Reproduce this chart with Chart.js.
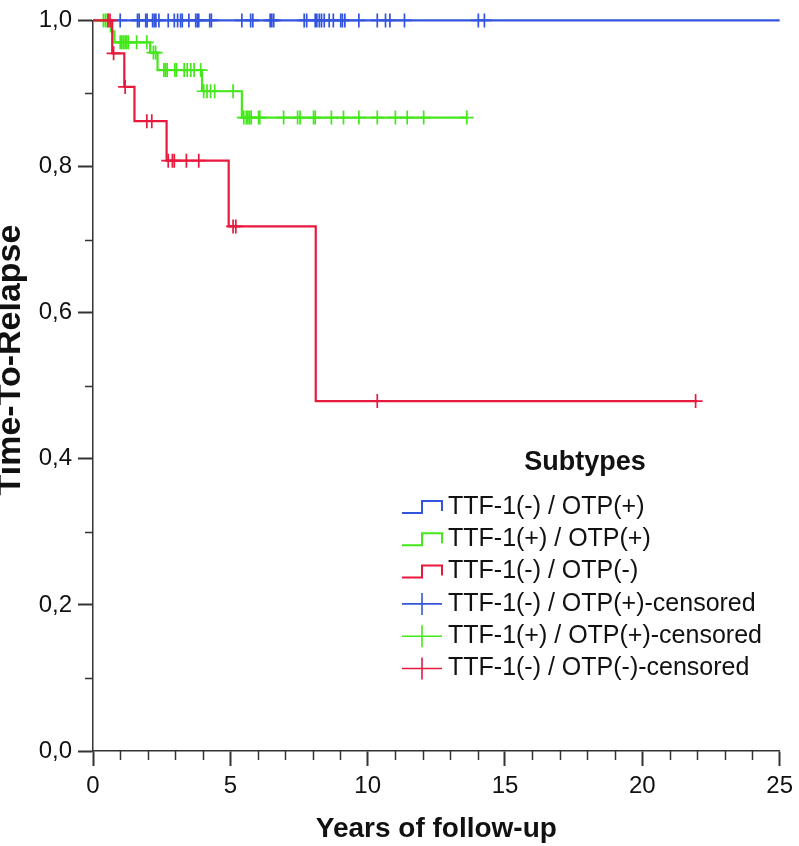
<!DOCTYPE html>
<html>
<head>
<meta charset="utf-8">
<script src="https://cdn.jsdelivr.net/npm/chart.js@4.4.1/dist/chart.umd.min.js"></script>
<style>
  html, body { margin: 0; padding: 0; background: #fff; }
  #wrap { position: relative; width: 799px; height: 846px; }
</style>
</head>
<body>
<div id="wrap"><canvas id="km"></canvas></div>
<script>
// Kaplan-Meier steps (time in years, survival after that time).
const blueTimes = [0, 25];
const blueSurv = [1, 1];
const greenTimes = [0, 0.65, 0.78, 2.08, 2.35, 3.97, 5.42, 13.61];
const greenSurv = [1, 0.985, 0.970, 0.956, 0.932, 0.903, 0.867, 0.867];
const redTimes = [0, 0.70, 1.14, 1.51, 2.68, 4.94, 8.11, 22.0];
const redSurv = [1, 0.955, 0.909, 0.862, 0.808, 0.718, 0.479, 0.479];

// Censored observations (years).
const blueCensored = [0.99, 1.62, 1.68, 1.92, 1.97, 2.17, 2.23, 2.29, 2.40, 2.74, 2.96, 3.08, 3.19, 3.25,
  3.49, 3.74, 3.80, 3.85, 4.25, 4.31, 5.42, 5.74, 5.82, 6.45, 6.51, 6.58, 7.69, 7.78, 8.09, 8.15, 8.24,
  8.32, 8.42, 8.60, 8.75, 9.02, 9.08, 9.17, 9.68, 10.35, 10.65, 10.81, 11.34, 14.03, 14.25];
const greenCensored = [0.38, 0.45, 0.52, 0.99, 1.05, 1.11, 1.17, 1.23, 1.29, 1.59, 1.96, 2.20, 2.28,
  2.58, 2.64, 2.70, 2.98, 3.04, 3.32, 3.43, 3.56, 3.68, 3.92, 4.03, 4.15, 4.28, 4.43, 5.10,
  5.49, 5.58, 5.64, 5.70, 5.76, 6.03, 6.07, 6.94, 7.45, 7.54, 8.03, 8.09, 8.68, 9.12, 9.68,
  10.35, 11.01, 11.44, 12.04, 13.61];
const redCensored = [0.55, 0.62, 0.75, 1.17, 1.96, 2.14, 2.74, 2.89, 2.96, 3.40, 3.85, 5.10, 5.20, 10.35, 21.94];

const subtypeLabels = ['TTF-1(-) / OTP(+)', 'TTF-1(+) / OTP(+)', 'TTF-1(-) / OTP(-)'];
const subtypeColors = ['#3355dd', '#44e81a', '#e8193c'];
const legendTitle = 'Subtypes';
const xTitle = 'Years of follow-up';
const yTitle = 'Time-To-Relapse';
const xTicks = [0, 5, 10, 15, 20, 25];
const yTicks = [0, 0.2, 0.4, 0.6, 0.8, 1.0];

const FONT = '"Liberation Sans", Arial, Helvetica, sans-serif';
Chart.defaults.font.family = FONT;
Chart.defaults.color = '#111';

function stepPoints(times, surv) {
  return times.map((t, i) => ({x: t, y: surv[i]}));
}

// y of a censor mark = curve value at that time
function censorPoints(times, surv, censored) {
  return censored.map(t => {
    let s = surv[0];
    times.forEach((tt, i) => { if (tt <= t) s = surv[i]; });
    return {x: t, y: s};
  });
}

const curves = [[blueTimes, blueSurv, blueCensored], [greenTimes, greenSurv, greenCensored], [redTimes, redSurv, redCensored]];
const datasets = [];
curves.forEach(([times, surv, cens], i) => {
  datasets.push({
    type: 'line',
    label: subtypeLabels[i],
    data: stepPoints(times, surv),
    borderColor: subtypeColors[i],
    borderWidth: 2.2,
    pointRadius: 0,
    stepped: 'before',
    fill: false,
    clip: false,
    order: 6 - i * 2,
  });
});
curves.forEach(([times, surv, cens], i) => {
  datasets.push({
    type: 'scatter',
    label: subtypeLabels[i] + '-censored',
    data: censorPoints(times, surv, cens),
    borderColor: subtypeColors[i],
    backgroundColor: subtypeColors[i],
    pointStyle: 'cross',
    pointRadius: 7,
    pointBorderWidth: 1.7,
    showLine: false,
    clip: false,
    order: 5 - i * 2,
  });
});

// minor ticks on both axes
const minorTicks = {
  id: 'minorTicks',
  afterDatasetsDraw(chart) {
    const {ctx, chartArea, scales} = chart;
    ctx.save();
    ctx.strokeStyle = '#333';
    ctx.lineWidth = 1.5;
    ctx.beginPath();
    for (let v = 0.1; v < 1; v += 0.2) {
      const y = Math.round(scales.y.getPixelForValue(v)) + 0.5;
      ctx.moveTo(chartArea.left - 8, y);
      ctx.lineTo(chartArea.left, y);
    }
    for (let v = 1; v < 25; v++) {
      if (v % 5 === 0) continue;
      const x = Math.round(scales.x.getPixelForValue(v)) + 0.5;
      ctx.moveTo(x, chartArea.bottom);
      ctx.lineTo(x, chartArea.bottom + 9);
    }
    ctx.stroke();
    ctx.restore();
  }
};

// y axis title, a little above the middle of the axis
const yAxisTitle = {
  id: 'yAxisTitle',
  afterDraw(chart) {
    const ctx = chart.ctx;
    ctx.save();
    ctx.translate(11, 360);
    ctx.rotate(-Math.PI / 2);
    ctx.fillStyle = '#111';
    ctx.font = 'bold 34px ' + FONT;
    ctx.textAlign = 'center';
    ctx.textBaseline = 'middle';
    ctx.fillText(yTitle, 0, 0);
    ctx.restore();
  }
};

// legend box inside the plot
const subtypesLegend = {
  id: 'subtypesLegend',
  afterDraw(chart) {
    const ctx = chart.ctx;
    const x0 = 402, top = 507, rowH = 32.3;
    ctx.save();
    ctx.fillStyle = '#111';
    ctx.textBaseline = 'middle';
    ctx.textAlign = 'center';
    ctx.font = 'bold 27px ' + FONT;
    ctx.fillText(legendTitle, 585, 463);
    ctx.textAlign = 'left';
    ctx.font = '25px ' + FONT;
    chart.data.datasets.forEach((ds, i) => {
      const y = top + i * rowH;
      ctx.strokeStyle = ds.borderColor;
      ctx.lineWidth = 2;
      ctx.beginPath();
      if (ds.type === 'line') {
        ctx.moveTo(x0, y + 6);
        ctx.lineTo(x0 + 20, y + 6);
        ctx.lineTo(x0 + 20, y - 6);
        ctx.lineTo(x0 + 40, y - 6);
        ctx.lineTo(x0 + 40, y + 4);
      } else {
        ctx.lineWidth = 1.6;
        ctx.moveTo(x0, y);
        ctx.lineTo(x0 + 40, y);
        ctx.moveTo(x0 + 20, y - 11);
        ctx.lineTo(x0 + 20, y + 11);
      }
      ctx.stroke();
      ctx.fillText(ds.label, x0 + 46, y);
    });
    ctx.restore();
  }
};

new Chart(document.getElementById('km'), {
  type: 'line',
  data: {datasets},
  plugins: [minorTicks, yAxisTitle, subtypesLegend],
  options: {
    responsive: true,
    maintainAspectRatio: false,
    animation: false,
    layout: {padding: {top: 15, right: 16, left: 0, bottom: 0}},
    plugins: {legend: {display: false}, tooltip: {enabled: false}},
    scales: {
      x: {
        type: 'linear',
        min: 0,
        max: 25,
        afterBuildTicks: (scale) => { scale.ticks = xTicks.map(v => ({value: v})); },
        ticks: {padding: 6, font: {size: 24}, color: '#111', callback: v => String(v)},
        grid: {drawOnChartArea: false, tickLength: 15, tickWidth: 2, tickColor: '#333'},
        border: {color: '#333', width: 1.5},
        title: {display: true, text: xTitle, font: {size: 28, weight: 'bold'}, color: '#111', padding: {top: 0, bottom: 0}},
        afterFit: (scale) => { scale.height = 95; },
      },
      y: {
        type: 'linear',
        min: 0,
        max: 1,
        afterBuildTicks: (scale) => { scale.ticks = yTicks.map(v => ({value: v})); },
        ticks: {padding: 6, font: {size: 24}, color: '#111', callback: v => v.toFixed(1).replace('.', ',')},
        grid: {drawOnChartArea: false, tickLength: 15, tickWidth: 2, tickColor: '#333'},
        border: {color: '#333', width: 1.5},
        title: {display: false},
        afterFit: (scale) => { scale.width = 93; },
      },
    },
  },
});
</script>
</body>
</html>
